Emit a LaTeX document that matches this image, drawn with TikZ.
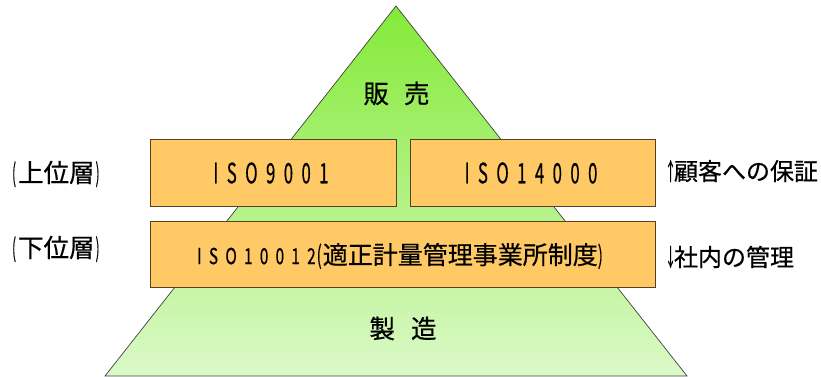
\documentclass[tikz,border=0pt]{standalone}
\usepackage{fontspec}
\usepackage{graphicx}
\setmainfont[FakeBold=0.5]{Noto Sans CJK JP}
\newfontfamily\isofont[LetterSpace=50,FakeBold=0.5]{Noto Sans CJK JP}
\newfontfamily\isofontb[LetterSpace=47,FakeBold=0.5]{Noto Sans CJK JP}
\definecolor{pyrtop}{HTML}{84EA38}
\definecolor{pyrbot}{HTML}{DBF9C8}
\definecolor{boxfill}{HTML}{FFC966}
\definecolor{boxline}{HTML}{5A4020}
\newcommand{\narrow}[1]{\scalebox{0.45}[1]{#1}}
\tikzset{
  isobox/.style={draw=boxline, line width=0.8pt, fill=boxfill, inner sep=0pt},
  lbl/.style={font=\fontsize{25.5}{25.5}\selectfont, inner sep=0pt, text=black},
  rlbl/.style={font=\fontsize{24}{24}\selectfont, inner sep=0pt, text=black, anchor=west},
  txt/.style={inner sep=0pt, text=black},
}
\begin{document}
\begin{tikzpicture}[x=1pt,y=-1pt]
\useasboundingbox (0,0) rectangle (821,377);
\coordinate (apex) at (396,6);
\coordinate (bl) at (105,376);
\coordinate (br) at (687,376);
\shade[top color=pyrtop, bottom color=pyrbot] (apex) -- (bl) -- (br) -- cycle;
\draw[line width=0.7pt, black!75] (apex) -- (bl) -- (br) -- cycle;

\node[lbl] (sales) at (396.5,93.5) {販\hspace{15pt}売};
\node[lbl] (manu) at (403,328.5) {製\hspace{16pt}造};

\node[isobox, minimum width=246pt, minimum height=67pt] (b1) at (273,172.5) {};
\node[isobox, minimum width=245pt, minimum height=67pt] (b2) at (532.5,172.5) {};
\node[isobox, minimum width=505pt, minimum height=66pt] (b3) at (402.5,254) {};

\node[txt] (t1) at (271,173)
  {\scalebox{0.6}[1]{\isofont\fontsize{28}{28}\selectfont ISO9001}};
\node[txt] (t2) at (531,173)
  {\scalebox{0.6}[1]{\isofont\fontsize{28}{28}\selectfont ISO14000}};
\node[txt, anchor=west] (t3) at (197,256)
  {\scalebox{0.7}[1]{\isofontb\fontsize{22}{22}\selectfont ISO10012}\hspace{1pt}\scalebox{0.6}[1]{\fontsize{25}{25}\selectfont (}\hspace{1pt}{\fontsize{25}{25}\selectfont 適正計量管理事業所制度}\scalebox{0.6}[1]{\fontsize{25}{25}\selectfont )}};

\node[lbl, anchor=west] (upper) at (12,174) {\narrow{(}\hspace{2pt}上位層\hspace{1pt}\narrow{)}};
\node[lbl, anchor=west] (lower) at (12,249) {\narrow{(}\hspace{2pt}下位層\hspace{1pt}\narrow{)}};
\node[rlbl] (guar) at (665,171) {\narrow{↑}\hspace{-2pt}顧客への保証};
\node[rlbl] (ctrl) at (665,257) {\narrow{↓}\hspace{-2pt}社内の管理};
\end{tikzpicture}
\end{document}
